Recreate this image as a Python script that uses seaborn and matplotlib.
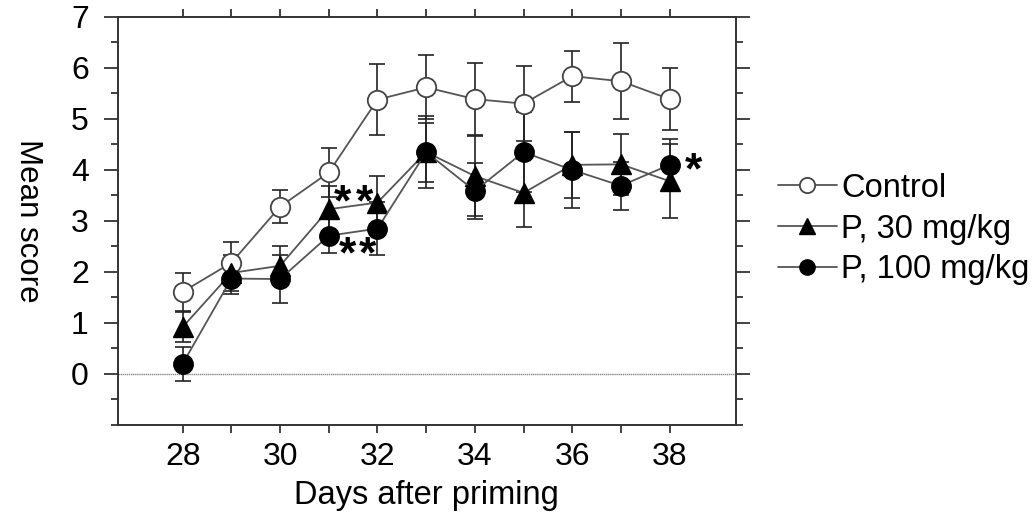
import numpy as np
import pandas as pd
import matplotlib
matplotlib.use("Agg")
import matplotlib.pyplot as plt
from matplotlib.lines import Line2D
from matplotlib.ticker import MultipleLocator
import seaborn as sns

days = [28, 29, 30, 31, 32, 33, 34, 35, 36, 37, 38]
control_mean = [1.61, 2.18, 3.28, 3.95, 5.38, 5.62, 5.39, 5.30, 5.84, 5.74, 5.39]
control_err = [0.37, 0.40, 0.33, 0.48, 0.70, 0.63, 0.70, 0.73, 0.50, 0.75, 0.60]
p30_mean = [0.92, 1.98, 2.12, 3.23, 3.36, 4.35, 3.88, 3.55, 4.10, 4.11, 3.78]
p30_err = [0.30, 0.35, 0.38, 0.45, 0.52, 0.70, 0.78, 0.66, 0.65, 0.60, 0.72]
p100_mean = [0.20, 1.87, 1.86, 2.71, 2.85, 4.35, 3.59, 4.35, 4.00, 3.69, 4.10]
p100_err = [0.33, 0.30, 0.47, 0.33, 0.52, 0.58, 0.55, 0.78, 0.75, 0.47, 0.50]
series_names = ["Control", "P, 30 mg/kg", "P, 100 mg/kg"]
x_ticks = [28, 30, 32, 34, 36, 38]
y_ticks = [0, 1, 2, 3, 4, 5, 6, 7]
# significance asterisks: (day, score at baseline)
sig_marks = [(31.29, 3.11), (31.74, 3.11), (31.39, 2.09), (31.80, 2.09), (38.49, 3.74)]

sns.set_theme(style="ticks")
plt.rcParams['font.family'] = ['Liberation Sans', 'DejaVu Sans']
plt.rcParams['text.color'] = 'black'
plt.rcParams['axes.labelcolor'] = 'black'
plt.rcParams['xtick.labelcolor'] = 'black'
plt.rcParams['ytick.labelcolor'] = 'black'

fig = plt.figure(figsize=(10.32, 5.15), dpi=100)
ax = fig.add_axes([0.1143, 0.175, 0.5987, 0.792])

df = pd.DataFrame({
    "day": days * 3,
    "score": control_mean + p30_mean + p100_mean,
    "err": control_err + p30_err + p100_err,
    "group": [series_names[0]] * len(days) + [series_names[1]] * len(days) + [series_names[2]] * len(days),
})

ax.axhline(0, color="#888888", lw=1.0, ls=(0, (1, 0.5)), zorder=1)

styles = {
    series_names[0]: dict(marker="o", mfc="white", mec="#444444", ms=14, mew=1.3),
    series_names[1]: dict(marker="^", mfc="black", mec="black", ms=15, mew=1.0),
    series_names[2]: dict(marker="o", mfc="black", mec="black", ms=14, mew=1.0),
}
zord = {series_names[0]: 3, series_names[1]: 4, series_names[2]: 5}

for name in series_names:
    sub = df[df["group"] == name]
    ax.errorbar(sub["day"], sub["score"], yerr=sub["err"], fmt="none",
                ecolor="#222222", elinewidth=1.2, capsize=6, capthick=1.2, zorder=2)
    sns.lineplot(data=sub, x="day", y="score", ax=ax, color="#555555", lw=1.3,
                 estimator=None, legend=False, zorder=zord[name],
                 markeredgewidth=styles[name]["mew"], marker=styles[name]["marker"],
                 markersize=styles[name]["ms"], markerfacecolor=styles[name]["mfc"],
                 markeredgecolor=styles[name]["mec"])

for sx, sy in sig_marks:
    ax.text(sx, sy, "*", fontsize=32, ha="center", va="baseline",
            fontweight="bold", zorder=6)

ax.set_xlim(26.67, 39.36)
ax.set_ylim(-1, 7)
ax.set_xticks(x_ticks)
ax.set_xticks([29, 31, 33, 35, 37], minor=True)
ax.set_yticks(y_ticks)
ax.yaxis.set_minor_locator(MultipleLocator(0.5))

for s in ax.spines.values():
    s.set_visible(True)
    s.set_color("#333333")
    s.set_linewidth(1.4)

ax.tick_params(axis="x", which="both", direction="out", length=6, width=1.3,
               color="#333333", top=True, labelsize=23, pad=6)
ax.tick_params(axis="y", which="major", direction="out", length=10, width=1.3,
               color="#333333", right=True, labelsize=23, pad=11)
ax.tick_params(axis="y", which="minor", direction="out", length=5, width=1.3,
               color="#333333", right=True)

ax.set_xlabel("Days after priming", fontsize=23.5, labelpad=6)
ax.set_ylabel("Mean score", fontsize=22.5, rotation=270, labelpad=42, va="bottom")

handles = [Line2D([], [], color="#555555", lw=1.3, marker=styles[n]["marker"],
                  mfc=styles[n]["mfc"], mec=styles[n]["mec"], ms=11,
                  mew=styles[n]["mew"]) for n in series_names]
fig.legend(handles, series_names, loc="center left", bbox_to_anchor=(0.741, 0.555),
           frameon=False, fontsize=23.5, handlelength=1.8, handletextpad=0.15,
           labelspacing=0.3, borderaxespad=0)

fig.savefig("out.png", dpi=100)
